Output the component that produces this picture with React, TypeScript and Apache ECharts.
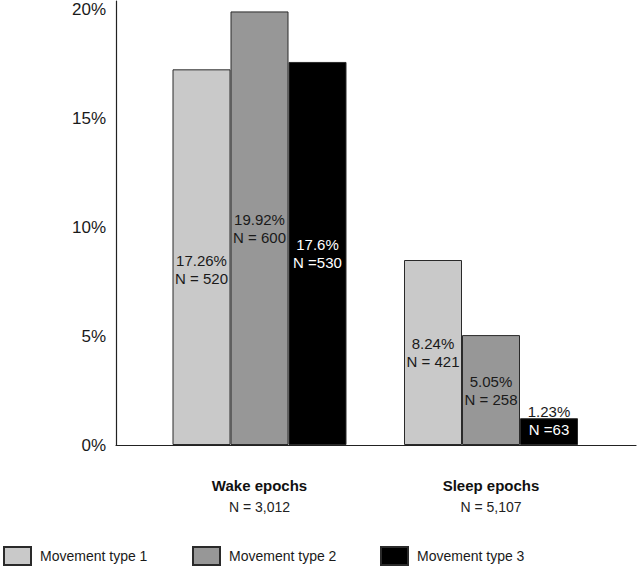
import React, { useEffect, useRef } from 'react';
import * as echarts from 'echarts';

const categories = ['Wake epochs', 'Sleep epochs'];
const categoryN = ['N = 3,012', 'N = 5,107'];
const seriesNames = ['Movement type 1', 'Movement type 2', 'Movement type 3'];
// bar heights (percent)
const type1Heights = [17.26, 8.5];
const type2Heights = [19.92, 5.05];
const type3Heights = [17.6, 1.23];
// printed labels
const type1Pct = ['17.26%', '8.24%'];
const type2Pct = ['19.92%', '5.05%'];
const type3Pct = ['17.6%', '1.23%'];
const type1N = ['N = 520', 'N = 421'];
const type2N = ['N = 600', 'N = 258'];
const type3N = ['N =530', 'N =63'];
const yTickStep = 5;
const yMax = 20.4;

const FONT = "'Liberation Sans', Arial, Helvetica, sans-serif";

export default function App() {
  const ref = useRef<HTMLDivElement>(null);
  useEffect(() => {
    if (!ref.current) return;
    const chart = echarts.init(ref.current, undefined, { renderer: 'svg' });
    const heights = [type1Heights, type2Heights, type3Heights];
    const pcts = [type1Pct, type2Pct, type3Pct];
    const ns = [type1N, type2N, type3N];
    const colors = ['#c9c9c9', '#979797', '#000000'];
    const textColors = ['#1a1a1a', '#1a1a1a', '#ffffff'];

    const series = [0, 1, 2].map((i) => {
      const rich = (topColor: string) => ({
        a: { color: topColor, fontSize: 15, lineHeight: 18, fontFamily: FONT },
        b: { color: textColors[i], fontSize: 15, lineHeight: 18, fontFamily: FONT },
      });
      return {
        type: 'bar',
        name: seriesNames[i],
        xAxisIndex: 1,
        yAxisIndex: 1,
        barWidth: 58,
        barGap: '0%',
        itemStyle: { color: colors[i], borderColor: '#2a2a2a', borderWidth: 1 },
        label: {
          show: true,
          position: 'inside',
          formatter: (p: any) => `{a|${pcts[i][p.dataIndex]}}\n{b|${ns[i][p.dataIndex]}}`,
          rich: rich(textColors[i]),
        },
        data: heights[i].map((v, j) => {
          if (v < 3) return { value: v, label: { offset: [0, -11], rich: rich('#1a1a1a') } };
          if (i === 0 && j === 0) return { value: v, label: { offset: [0, 12] } };
          return { value: v };
        }),
      };
    });

    chart.setOption({
      animation: false,
      legend: seriesNames.map((n, i) => ({
        data: [n],
        left: [3, 192, 380][i],
        top: 546,
        padding: 0,
        itemWidth: 27,
        itemHeight: 18,
        icon: 'rect',
        textStyle: { fontSize: 14, color: '#1a1a1a', fontFamily: FONT, padding: [0, 0, 0, 4] },
        selectedMode: false,
      })),
      grid: [
        { left: 116, right: 2, top: 1, bottom: 123 },
        { left: 143.75, right: 31.25, top: 1, bottom: 123 },
      ],
      xAxis: [
        {
          type: 'category',
          gridIndex: 0,
          data: [''],
          axisLine: { show: true, lineStyle: { color: '#222', width: 1.2 } },
          axisTick: { show: false },
          axisLabel: { show: false },
        },
        {
          type: 'category',
          gridIndex: 1,
          data: categories,
          axisLine: { show: false },
          axisTick: { show: false },
          axisLabel: {
            margin: 30,
            formatter: (v: string, idx: number) => `{t|${v}}\n{n|${categoryN[idx]}}`,
            rich: {
              t: { fontSize: 15, fontWeight: 'bold', color: '#111', lineHeight: 21, fontFamily: FONT },
              n: { fontSize: 14, color: '#222', lineHeight: 21, fontFamily: FONT },
            },
          },
        },
      ],
      yAxis: [
        {
          type: 'value',
          gridIndex: 0,
          min: 0,
          max: yMax,
          interval: yTickStep,
          axisLine: { show: true, lineStyle: { color: '#222', width: 1.2 } },
          axisTick: { show: false },
          splitLine: { show: false },
          axisLabel: {
            margin: 10,
            fontSize: 17,
            color: '#1a1a1a',
            fontFamily: FONT,
            showMaxLabel: true,
            formatter: (v: number) => (v % yTickStep === 0 ? `${v}%` : ''),
          },
        },
        {
          type: 'value',
          gridIndex: 1,
          min: 0,
          max: yMax,
          interval: yTickStep,
          show: false,
          splitLine: { show: false },
        },
      ],
      series,
    });
    return () => chart.dispose();
  }, []);
  return (
    <div
      ref={ref}
      style={{ position: 'absolute', left: 0, top: 0, width: 638, height: 568, background: '#fff' }}
    />
  );
}
